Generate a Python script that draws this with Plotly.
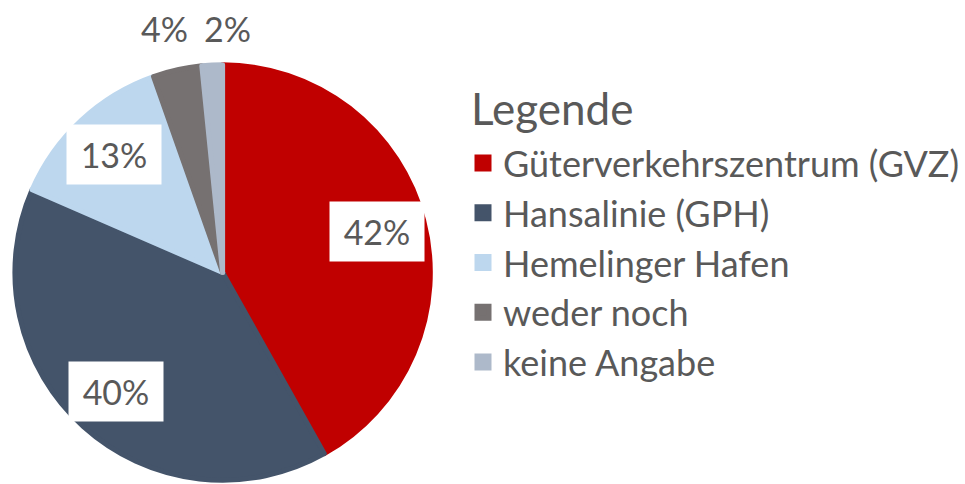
import math
import plotly.graph_objects as go

labels = ["Güterverkehrszentrum (GVZ)", "Hansalinie (GPH)", "Hemelinger Hafen", "weder noch", "keine Angabe"]
values = [41.9, 39.7, 13.1, 3.8, 1.6]
colors = ["#C00000", "#44546A", "#BDD7EE", "#767171", "#ADB9CA"]
legend_title = "Legende"

W, H = 965, 484
FONT = "Lato"
TXT = "#595959"

# pie geometry (pixels); the slice outline adds LW/2 around the edge
LW = 5
cx, cy, R = 224.0, 272.5, 211.5
Rd = R - LW / 2
dom_x = [(cx - Rd) / W, (cx + Rd) / W]
dom_y = [(H - (cy + Rd)) / H, (H - (cy - Rd)) / H]

fig = go.Figure()
fig.add_trace(go.Pie(
    labels=labels, values=values, sort=False, direction="clockwise", rotation=0,
    marker=dict(colors=colors, line=dict(color=colors, width=LW)),
    textinfo="none", hoverinfo="label+percent",
    domain=dict(x=[max(0, dom_x[0]), dom_x[1]], y=[max(0, dom_y[0]), min(1, dom_y[1])]),
))

total = sum(values)
cum = 0.0
annotations = []
for i, v in enumerate(values):
    frac = (cum + v / 2) / total
    cum += v
    a = 2 * math.pi * frac
    share = v / total
    inside = share > 0.08
    r = 0.76 * R if inside else 1.18 * R
    px = cx + r * math.sin(a)
    py = cy - r * math.cos(a)
    txt = f"{round(share * 100)}%"
    ann = dict(x=px / W, y=1 - py / H, xref="paper", yref="paper", text=txt,
               showarrow=False, font=dict(family=FONT, size=34, color=TXT),
               xanchor="center", yanchor="middle")
    if inside:
        ann.update(bgcolor="white", width=94, height=59, borderpad=0)
    elif share > 0.03:
        ann.update(xshift=-4)
    else:
        ann.update(xshift=17, yshift=-5)
    annotations.append(ann)

# legend heading
annotations.append(dict(x=472 / W, y=1 - 108 / H, xref="paper", yref="paper",
                        text=legend_title, showarrow=False, xanchor="left", yanchor="middle",
                        font=dict(family=FONT, size=44, color=TXT)))

fig.update_layout(
    width=W, height=H,
    margin=dict(l=0, r=0, t=0, b=0),
    paper_bgcolor="white", plot_bgcolor="white",
    font=dict(family=FONT, color=TXT),
    showlegend=True,
    legend=dict(
        x=466 / W, y=1 - 133 / H, xanchor="left", yanchor="top",
        font=dict(family=FONT, size=36, color=TXT),
        bgcolor="rgba(0,0,0,0)",
    ),
    annotations=annotations,
)

fig.write_html("out.html", config={"displayModeBar": False},
               post_script="document.body.style.margin='0';")
